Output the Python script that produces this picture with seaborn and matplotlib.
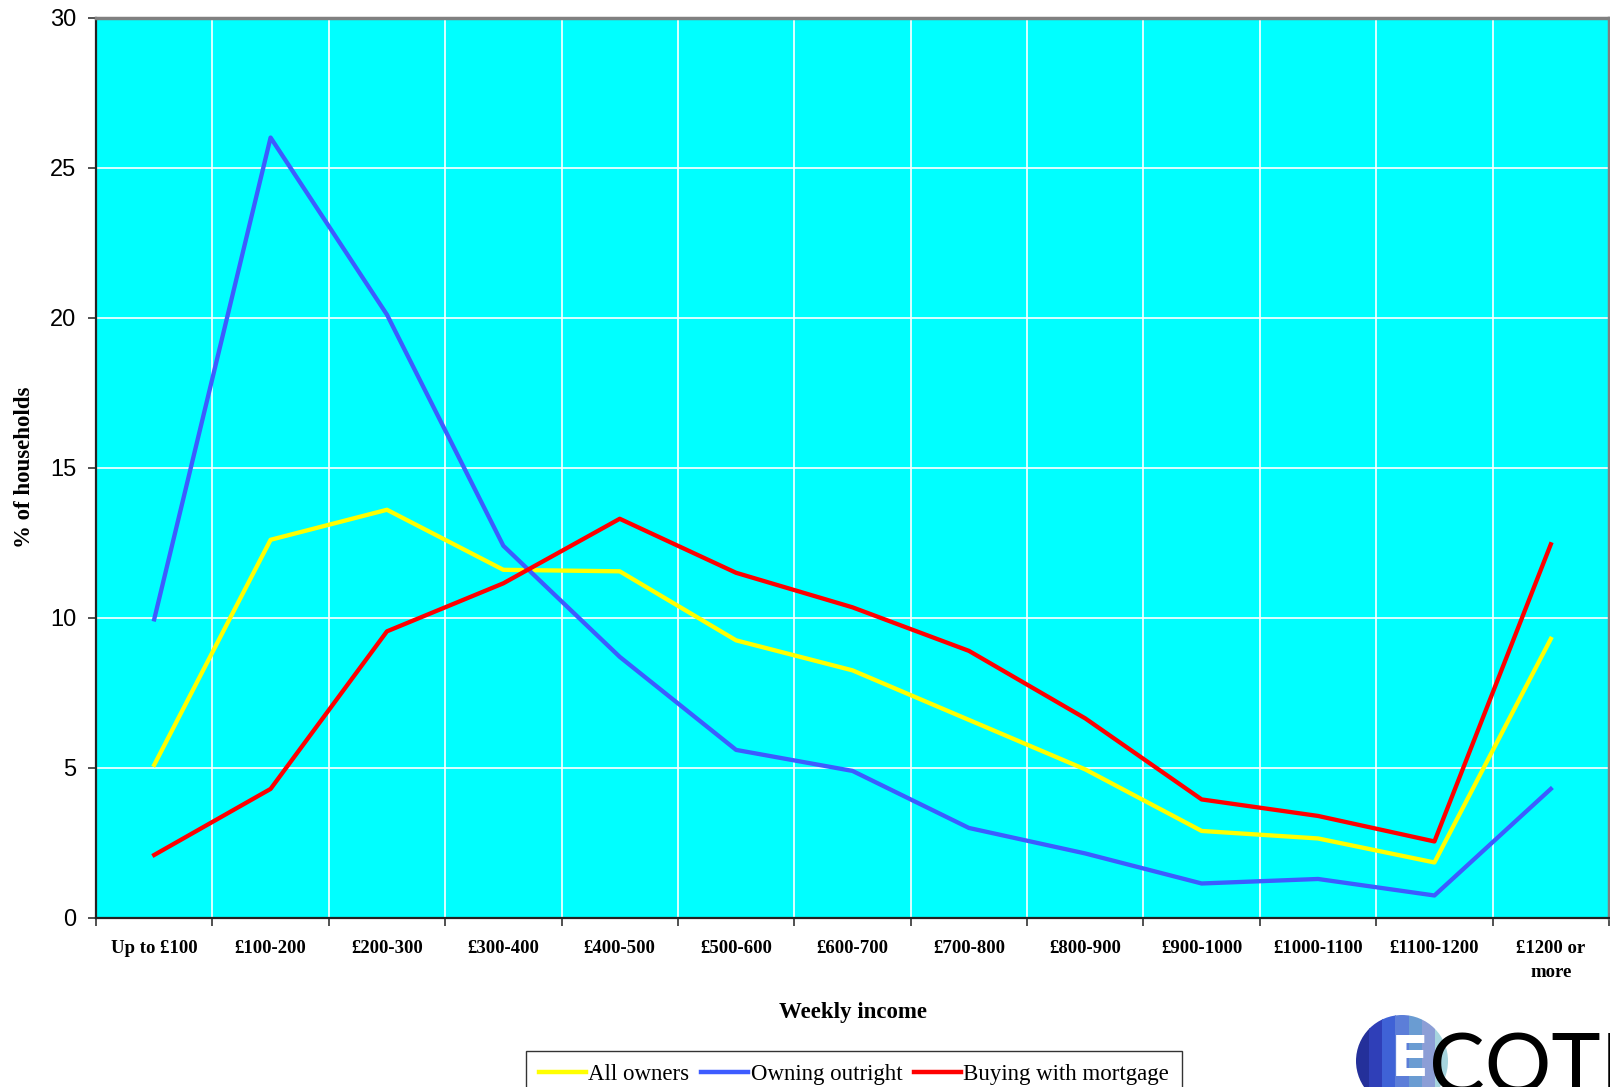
import numpy as np
import pandas as pd
import matplotlib
matplotlib.use("Agg")
import matplotlib.pyplot as plt
import seaborn as sns
from matplotlib.patches import Circle, Rectangle

categories = ["Up to £100", "£100-200", "£200-300", "£300-400", "£400-500",
              "£500-600", "£600-700", "£700-800", "£800-900", "£900-1000",
              "£1000-1100", "£1100-1200", "£1200 or\nmore"]
all_owners = [5.1, 12.6, 13.6, 11.6, 11.55, 9.25, 8.25, 6.6, 4.95, 2.9, 2.65, 1.85, 9.3]
owning_outright = [9.95, 26.0, 20.1, 12.4, 8.7, 5.6, 4.9, 3.0, 2.15, 1.15, 1.3, 0.75, 4.3]
buying_mortgage = [2.1, 4.3, 9.55, 11.15, 13.3, 11.5, 10.35, 8.9, 6.65, 3.95, 3.4, 2.55, 12.45]
series_names = ["All owners", "Owning outright", "Buying with mortgage"]
series_colors = ["#FFFF00", "#3D5CFF", "#FF0000"]

rows = []
for name, vals in zip(series_names, [all_owners, owning_outright, buying_mortgage]):
    for i, v in enumerate(vals):
        rows.append({"pos": i, "category": categories[i], "series": name, "value": v})
df = pd.DataFrame(rows)

W, H = 1610, 1087
fig = plt.figure(figsize=(W / 100, H / 100), dpi=100)
fig.patch.set_facecolor("white")

left, right, top, bottom = 96, 1609, 17.5, 918
ax = fig.add_axes([left / W, 1 - bottom / H, (right - left) / W, (bottom - top) / H])
ax.set_facecolor("#00FFFF")

sns.lineplot(data=df, x="pos", y="value", hue="series", hue_order=series_names,
             palette=dict(zip(series_names, series_colors)), linewidth=3.1,
             sort=False, ax=ax, legend=False, zorder=3)

n = len(categories)
ax.set_xlim(-0.5, n - 0.5)
ax.set_ylim(0, 30)
ax.set_yticks(np.arange(0, 31, 5))
ax.set_xticks(np.arange(-0.5, n, 1.0))
ax.set_xticklabels([])
ax.set_xticks(np.arange(n), minor=True)
ax.set_xticklabels(categories, minor=True, fontfamily="Liberation Serif",
                   fontweight="bold", fontsize=13.5, linespacing=1.5)
ax.tick_params(axis="x", which="minor", length=0, pad=16)
ax.tick_params(axis="x", which="major", length=6, width=1.2, color="#333333", direction="out")
ax.tick_params(axis="y", length=6, width=1.2, color="#333333", pad=8, labelsize=17)
for lab in ax.get_yticklabels():
    lab.set_fontfamily("Liberation Sans")

ax.grid(True, which="major", color="white", linewidth=1.2, zorder=0)
ax.set_axisbelow(True)

for s in ["top", "right"]:
    ax.spines[s].set_color("#808080")
    ax.spines[s].set_linewidth(2.5)
for s in ["left", "bottom"]:
    ax.spines[s].set_color("#222222")
    ax.spines[s].set_linewidth(1.6)

ax.set_xlabel("Weekly income", fontfamily="Liberation Serif", fontweight="bold", fontsize=16.5)
ax.xaxis.set_label_coords(0.5, (bottom - 1002) / (bottom - top))
ax.set_ylabel("% of households", fontfamily="Liberation Serif", fontweight="bold",
              fontsize=16.5, va="center")
ax.yaxis.set_label_coords((25 - left) / (right - left), 0.5)

handles = [plt.Line2D([], [], color=c, lw=3.2) for c in series_colors]
leg = fig.legend(handles, series_names, loc="upper left",
                 bbox_to_anchor=(526 / W, 1 - 1051 / H), ncol=3,
                 prop={"family": "Liberation Serif", "size": 16.5},
                 frameon=True, fancybox=False, edgecolor="black",
                 handlelength=2.05, handletextpad=0.12, columnspacing=0.5,
                 borderpad=0.55, borderaxespad=0)
leg.get_frame().set_linewidth(1.0)

# Logo (partially cut off at bottom-right, as in the reference)
lax = fig.add_axes([0, 0, 1, 1], zorder=5)
lax.set_xlim(0, W)
lax.set_ylim(H, 0)
lax.axis("off")
cx, cy, r = 1402, 1061, 46
circ = Circle((cx, cy), r, transform=lax.transData, facecolor="none", edgecolor="none")
lax.add_patch(circ)
stripe_colors = ["#24309A", "#2F3FB8", "#3F62D6", "#5C7ED8", "#6A9CD2", "#8C9ED6", "#A6D4DE"]
sw = 2 * r / len(stripe_colors)
for i, c in enumerate(stripe_colors):
    rect = Rectangle((cx - r + i * sw, cy - r), sw + 0.5, 2 * r, facecolor=c, edgecolor="none")
    lax.add_patch(rect)
    rect.set_clip_path(circ)
lax.text(1391, 1033, "E", color="white", fontsize=40, fontfamily="DejaVu Sans",
         fontweight="bold", va="top", ha="left")
lax.text(1429, 1032, "COTEC", color="black", fontsize=60, fontfamily="Lato",
         fontweight="normal", va="top", ha="left")

fig.savefig("out.png", dpi=100)
